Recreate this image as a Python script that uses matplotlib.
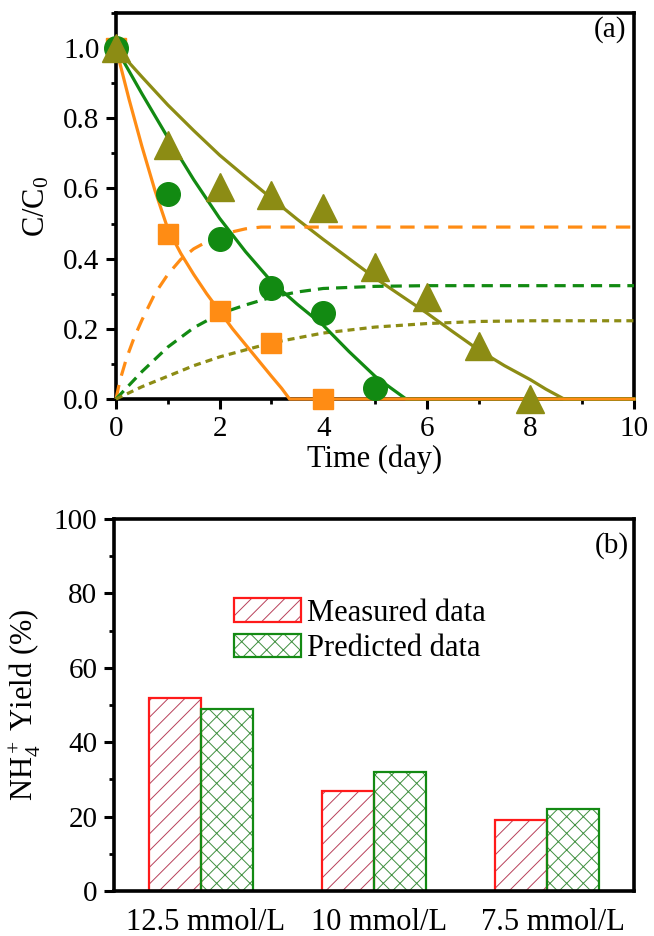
import numpy as np
import matplotlib.pyplot as plt
from matplotlib.ticker import MultipleLocator
from matplotlib.legend_handler import HandlerTuple

plt.rcParams['font.family'] = ['Liberation Serif', 'DejaVu Serif']
plt.rcParams['mathtext.fontset'] = 'custom'
plt.rcParams['mathtext.rm'] = 'Liberation Serif'
plt.rcParams['mathtext.it'] = 'Liberation Serif:italic'
plt.rcParams['hatch.linewidth'] = 0.7

# ---- (a) 测量点 ----
t_sq = [0, 1, 2, 3, 4]
c_sq = [1.0, 0.47, 0.25, 0.16, 0.0]
t_ci = [0, 1, 2, 3, 4, 5]
c_ci = [1.0, 0.585, 0.455, 0.315, 0.245, 0.03]
t_tr = [0, 1, 2, 3, 4, 5, 6, 7, 8]
c_tr = [1.0, 0.725, 0.605, 0.58, 0.545, 0.375, 0.29, 0.15, 0.0]

# 拟合曲线
t_fit_or = [0, 0.25, 0.5, 0.75, 1.0, 1.25, 1.5, 1.75, 2.0, 2.25, 2.5, 2.75, 3.0, 3.2, 3.35, 10]
c_fit_or = [1.0, 0.855, 0.72, 0.595, 0.485, 0.415, 0.355, 0.30, 0.25, 0.20, 0.155, 0.11, 0.065, 0.03, 0.0, 0.0]
t_fit_gr = [0, 0.5, 1.0, 1.5, 2.0, 2.5, 3.0, 3.5, 4.0, 4.5, 5.0, 5.3, 5.6, 10]
c_fit_gr = [1.0, 0.87, 0.745, 0.625, 0.515, 0.42, 0.335, 0.27, 0.21, 0.135, 0.065, 0.032, 0.0, 0.0]
t_fit_ol = [0, 0.5, 1, 1.5, 2, 2.5, 3, 3.5, 4, 4.5, 5, 5.5, 6, 6.5, 7, 7.5, 8, 8.3, 8.65, 10]
c_fit_ol = [1.0, 0.918, 0.838, 0.765, 0.695, 0.633, 0.572, 0.512, 0.455, 0.4, 0.345, 0.295, 0.245, 0.192, 0.14, 0.095, 0.055, 0.028, 0.0, 0.0]

# NH4+ 生成曲线 (虚线)
t_nh_or = [0, 0.05, 0.1, 0.2, 0.35, 0.5, 0.75, 1.0, 1.25, 1.5, 2.0, 2.5, 2.8, 10]
c_nh_or = [0, 0.035, 0.065, 0.115, 0.175, 0.225, 0.3, 0.355, 0.398, 0.428, 0.468, 0.485, 0.49, 0.49]
t_nh_gr = [0, 0.5, 1.0, 1.5, 2.0, 2.5, 3.0, 3.5, 4.0, 5.0, 6.0, 10]
c_nh_gr = [0, 0.078, 0.148, 0.203, 0.243, 0.268, 0.29, 0.305, 0.315, 0.321, 0.323, 0.323]
t_nh_ol = [0, 0.5, 1.0, 1.5, 2.0, 3.0, 4.0, 5.0, 6.0, 7.0, 8.0, 10]
c_nh_ol = [0, 0.035, 0.065, 0.095, 0.12, 0.16, 0.188, 0.205, 0.215, 0.221, 0.223, 0.223]

# ---- (b) 柱状图 ----
groups = ['12.5 mmol/L', '10 mmol/L', '7.5 mmol/L']
measured = [52, 27, 19]
predicted = [49, 32, 22]

c_or = '#ff8c14'
c_gr = '#128a12'
c_ol = '#8c8c14'

fig = plt.figure(figsize=(6.54, 9.36), dpi=100)
ax1 = fig.add_axes([0.1774, 0.5737, 0.792, 0.4124])
ax2 = fig.add_axes([0.1743, 0.048, 0.7951, 0.3975])

lw = 2.3
# 实线
ax1.plot(t_fit_ol, c_fit_ol, color=c_ol, lw=lw, zorder=3, clip_on=False)
ax1.plot(t_fit_gr, c_fit_gr, color=c_gr, lw=lw, zorder=3.1, clip_on=False)
ax1.plot(t_fit_or, c_fit_or, color=c_or, lw=lw, zorder=3.2, clip_on=False)
# 虚线
ax1.plot(t_nh_or, c_nh_or, color=c_or, lw=lw, ls=(0, (4.5, 3)), zorder=3, clip_on=False)
ax1.plot(t_nh_gr, c_nh_gr, color=c_gr, lw=lw, ls=(0, (3.5, 2.2)), zorder=3, clip_on=False)
ax1.plot(t_nh_ol, c_nh_ol, color=c_ol, lw=lw, ls=(0, (2.2, 1.6)), zorder=3, clip_on=False)
# 点
ax1.plot(t_sq, c_sq, 's', color=c_or, ms=15, zorder=4, clip_on=False)
ax1.plot(t_ci, c_ci, 'o', color=c_gr, ms=17, zorder=4, clip_on=False)
ax1.plot(t_tr, c_tr, '^', color=c_ol, ms=20, zorder=4, clip_on=False)

ax1.set_xlim(0, 10)
ax1.set_ylim(0, 1.1)
ax1.xaxis.set_major_locator(MultipleLocator(2))
ax1.xaxis.set_minor_locator(MultipleLocator(1))
ax1.yaxis.set_minor_locator(MultipleLocator(0.1))
ax1.set_yticks([0.0, 0.2, 0.4, 0.6, 0.8, 1.0])
ax1.set_yticklabels(['0.0', '0.2', '0.4', '0.6', '0.8', '1.0'])
ax1.set_xlabel('Time (day)', fontsize=22, labelpad=2)
ax1.set_ylabel('C/C$_0$', fontsize=22, labelpad=8)
ax1.text(0.985, 0.956, '(a)', transform=ax1.transAxes, ha='right', va='center', fontsize=21)

# 柱子: 先画阴影层, 再画边框
x = np.arange(len(groups))
w = 0.3
hm = ax2.bar(x - w / 2, measured, w, color='none', edgecolor='#b8405a', hatch='//', lw=0, zorder=2)
hp = ax2.bar(x + w / 2, predicted, w, color='none', edgecolor='#3f8f3f', hatch='xx', lw=0, zorder=2)
em = ax2.bar(x - w / 2, measured, w, fill=False, edgecolor='#ff1a1a', lw=1.6, zorder=2.2)
ep = ax2.bar(x + w / 2, predicted, w, fill=False, edgecolor='#138a13', lw=1.6, zorder=2.2)

ax2.set_xlim(-0.5, 2.5)
ax2.set_ylim(0, 100)
ax2.set_xticks(x + 0.03)
ax2.set_xticklabels(groups)
ax2.yaxis.set_major_locator(MultipleLocator(20))
ax2.yaxis.set_minor_locator(MultipleLocator(10))
ax2.set_ylabel('NH$_4^+$ Yield (%)', fontsize=22, labelpad=8)
ax2.text(0.99, 0.93, '(b)', transform=ax2.transAxes, ha='right', va='center', fontsize=21)
ax2.legend([(hm[0], em[0]), (hp[0], ep[0])], ['Measured data', 'Predicted data'],
           handler_map={tuple: HandlerTuple(ndivide=1)},
           loc='center left', bbox_to_anchor=(0.23, 0.70), frameon=False,
           fontsize=22, handlelength=2.2, handleheight=0.82, handletextpad=0.2,
           labelspacing=0.2, borderpad=0, borderaxespad=0)

for ax in (ax1, ax2):
    for s in ax.spines.values():
        s.set_linewidth(2.6)
    ax.tick_params(which='major', direction='out', length=7, width=2.2, labelsize=21, pad=5)
    ax.tick_params(which='minor', direction='out', length=3.5, width=2.0)
    ax.tick_params(top=False, right=False, which='both')

ax2.tick_params(axis='x', which='both', length=0, pad=12, labelsize=22)
ax2.tick_params(axis='x', which='minor', bottom=False)

fig.savefig('out.png', dpi=100)
